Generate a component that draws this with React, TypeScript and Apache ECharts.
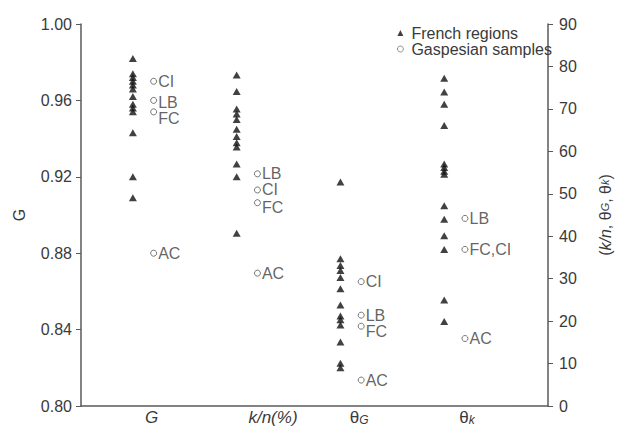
import React, { useEffect, useRef } from 'react';
import * as echarts from 'echarts';

// Categories along the bottom axis
const categories = ['G', 'k/n(%)', 'θG', 'θk'];

// French regions (triangles)
const frenchG = [0.982, 0.974, 0.972, 0.970, 0.968, 0.966, 0.962, 0.958, 0.956, 0.954, 0.943, 0.920, 0.909];
const frenchKn = [78.0, 74.1, 70.0, 68.8, 67.5, 65.2, 63.5, 62.0, 61.0, 57.0, 54.0, 40.7];
const frenchThetaG = [52.8, 34.7, 33.1, 31.9, 30.3, 27.6, 23.8, 21.2, 20.3, 19.1, 15.1, 10.1, 9.0];
const frenchThetaK = [77.2, 74.0, 71.1, 66.1, 57.0, 56.2, 55.3, 54.6, 47.2, 44.0, 40.1, 36.9, 25.0, 19.9];

// Gaspesian samples (circles)
const gaspGLabels = ['CI', 'LB', 'FC', 'AC'];
const gaspG = [0.970, 0.960, 0.954, 0.880];
const gaspKnLabels = ['LB', 'CI', 'FC', 'AC'];
const gaspKn = [54.7, 50.9, 47.9, 31.3];
const gaspThetaGLabels = ['CI', 'LB', 'FC', 'AC'];
const gaspThetaG = [29.3, 21.4, 18.8, 6.1];
const gaspThetaKLabels = ['LB', 'FC,CI', 'AC'];
const gaspThetaK = [44.2, 36.9, 15.9];

// Tick settings
const leftMin = 0.8, leftMax = 1.0, leftStep = 0.04;
const rightMin = 0, rightMax = 90, rightStep = 10;

// Layout (positions on the hidden x scale, label nudges in px)
const colX = [0.5, 1.5, 2.5, 3.5];
const circleOffset = 0.2;
const catLabelX = [0.68, 1.85, 2.68, 3.72];
const labelDyG = [0, 2, 7, 0];
const labelDyKn = [0, 0, 5, 0];
const labelDyThetaG = [0, 0, 5, 0];
const labelDyThetaK = [0, 0, 0];

const TEXT = '#3a3a3a';
const AXIS = '#5a5a5a';
const FONT = '"Liberation Sans", Arial, sans-serif';

const catRich = ['{i|G}', '{i|k/n(%)}', '{n|θ}{s|G}', '{n|θ}{s|k}'];

export default function App() {
  const ref = useRef<HTMLDivElement>(null);
  useEffect(() => {
    if (!ref.current) return;
    const chart = echarts.init(ref.current, undefined, { renderer: 'svg' });
    const tri = (vals: number[], i: number) => vals.map((v) => [colX[i], v]);
    const circ = (vals: number[], labels: string[], dys: number[], i: number) =>
      vals.map((v, k) => ({
        value: [colX[i] + circleOffset, v],
        name: labels[k],
        label: { offset: [0, dys[k]] },
      }));

    const triStyle = {
      type: 'scatter' as const,
      name: 'French regions',
      symbol: 'triangle',
      symbolSize: [8, 7],
      itemStyle: { color: '#111' },
      z: 3,
    };
    const circStyle = {
      type: 'scatter' as const,
      name: 'Gaspesian samples',
      symbol: 'circle',
      symbolSize: 6,
      itemStyle: { color: '#fff', borderColor: '#555', borderWidth: 1 },
      label: {
        show: true,
        position: 'right' as const,
        distance: 1,
        formatter: '{b}',
        color: TEXT,
        fontSize: 16,
        lineHeight: 14,
        fontFamily: FONT,
      },
      z: 3,
    };

    chart.setOption({
      animation: false,
      textStyle: { fontFamily: FONT },
      grid: { left: 81, right: 62, top: 24, bottom: 20, containLabel: false },
      legend: {
        orient: 'vertical',
        left: 397,
        top: 25,
        padding: 0,
        itemWidth: 6,
        itemHeight: 6,
        itemGap: 0,
        itemStyle: { borderWidth: 0.8 },
        textStyle: { color: TEXT, fontSize: 16, fontFamily: FONT, lineHeight: 14, padding: [0, 0, 0, 3] },
        data: [
          { name: 'French regions', icon: 'triangle' },
          { name: 'Gaspesian samples', icon: 'circle' },
        ],
      },
      xAxis: {
        type: 'value',
        min: 0,
        max: 4.5,
        splitLine: { show: false },
        axisTick: { show: false },
        axisLine: { show: true, lineStyle: { color: AXIS, width: 1.5 } },
        axisLabel: {
          customValues: catLabelX,
          margin: 3,
          color: TEXT,
          formatter: (v: number) => {
            let best = 0;
            catLabelX.forEach((x, i) => {
              if (Math.abs(x - v) < Math.abs(catLabelX[best] - v)) best = i;
            });
            return catRich[best];
          },
          rich: {
            i: { fontSize: 17, fontStyle: 'italic', color: TEXT, fontFamily: FONT, lineHeight: 17 },
            n: { fontSize: 17, color: TEXT, fontFamily: FONT, lineHeight: 17 },
            s: { fontSize: 12, fontStyle: 'italic', color: TEXT, fontFamily: FONT, lineHeight: 17, verticalAlign: 'bottom' },
          },
        },
      },
      yAxis: [
        {
          type: 'value',
          min: leftMin,
          max: leftMax,
          interval: leftStep,
          position: 'left',
          name: 'G',
          nameLocation: 'middle',
          nameGap: 54,
          nameRotate: 90,
          nameTextStyle: { color: TEXT, fontSize: 16, fontFamily: FONT },
          splitLine: { show: false },
          axisLine: { show: true, lineStyle: { color: AXIS, width: 1.5 } },
          axisTick: { show: true, length: 5, lineStyle: { color: AXIS } },
          axisLabel: { color: TEXT, fontSize: 16, margin: 9, formatter: (v: number) => v.toFixed(2) },
        },
        {
          type: 'value',
          min: rightMin,
          max: rightMax,
          interval: rightStep,
          position: 'right',
          name: '({i|k/n}{n|, θ}{s|G}{n|, θ}{s|k}{n|)}',
          nameLocation: 'middle',
          nameGap: 49,
          nameRotate: 90,
          nameTextStyle: {
            color: TEXT,
            fontSize: 16,
            fontFamily: FONT,
            rich: {
              i: { fontSize: 16, fontStyle: 'italic', color: TEXT, fontFamily: FONT },
              n: { fontSize: 16, color: TEXT, fontFamily: FONT },
              s: { fontSize: 11, fontStyle: 'italic', color: TEXT, fontFamily: FONT },
            },
          },
          splitLine: { show: false },
          axisLine: { show: true, lineStyle: { color: AXIS, width: 1.5 } },
          axisTick: { show: true, length: 5, lineStyle: { color: AXIS } },
          axisLabel: { color: TEXT, fontSize: 16, margin: 11 },
        },
      ],
      series: [
        { ...triStyle, yAxisIndex: 0, data: tri(frenchG, 0) },
        { ...triStyle, yAxisIndex: 1, data: tri(frenchKn, 1) },
        { ...triStyle, yAxisIndex: 1, data: tri(frenchThetaG, 2) },
        { ...triStyle, yAxisIndex: 1, data: tri(frenchThetaK, 3) },
        { ...circStyle, yAxisIndex: 0, data: circ(gaspG, gaspGLabels, labelDyG, 0) },
        { ...circStyle, yAxisIndex: 1, data: circ(gaspKn, gaspKnLabels, labelDyKn, 1) },
        { ...circStyle, yAxisIndex: 1, data: circ(gaspThetaG, gaspThetaGLabels, labelDyThetaG, 2) },
        { ...circStyle, yAxisIndex: 1, data: circ(gaspThetaK, gaspThetaKLabels, labelDyThetaK, 3) },
      ],
    });
    return () => chart.dispose();
  }, []);
  return (
    <div
      ref={ref}
      style={{ position: 'fixed', left: 0, top: 0, width: 621, height: 426, background: '#fff' }}
    />
  );
}
